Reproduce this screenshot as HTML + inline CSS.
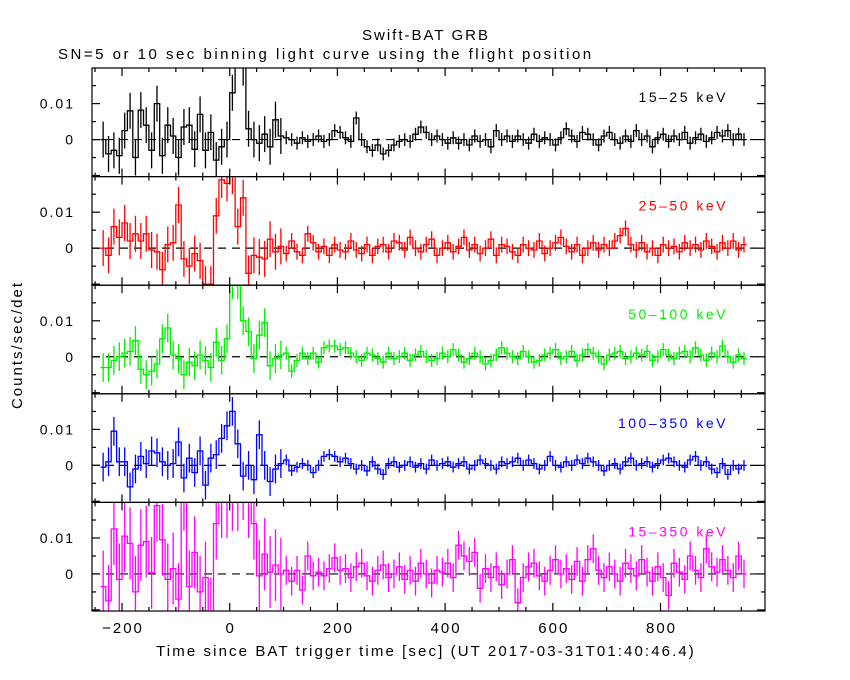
<!DOCTYPE html>
<html><head><meta charset="utf-8"><style>
html,body{margin:0;padding:0;background:#fff;}
svg{display:block;font-family:"Liberation Sans","DejaVu Sans",sans-serif;}
text{letter-spacing:2px;}
</style></head><body>
<svg id="chart" width="850" height="680" viewBox="0 0 850 680" xmlns="http://www.w3.org/2000/svg">
<text x="426" y="40" text-anchor="middle" font-size="15">Swift-BAT GRB</text>
<text x="58" y="59" font-size="15" style="letter-spacing:2.5px">SN=5 or 10 sec binning light curve using the flight position</text>
<text transform="translate(22,345) rotate(-90)" text-anchor="middle" font-size="15">Counts/sec/det</text>
<text x="426" y="656" text-anchor="middle" font-size="15" style="letter-spacing:2.1px">Time since BAT trigger time [sec] (UT 2017-03-31T01:40:46.4)</text>
<g id="panels"></g>
</svg>
<script>
const binStart = -240;
const binWidth = 10;
const xTicks = [-200, 0, 200, 400, 600, 800];
const yTicks = [0, 0.01];
const yTickLabels = ["0", "0.01"];
const bandLabels = ["15\u201325 keV", "25\u201350 keV", "50\u2013100 keV", "100\u2013350 keV", "15\u2013350 keV"];
const errSplitTime = 105;
const errPre = [5, 5, 4, 4, 10];
const errPost = [1.8, 2.2, 1.8, 1.5, 4];
const s1 = [0,-4,-3,-4.5,2.5,8,-5,8.2,4,-3,10,-4.5,4,1,-5,3.5,4,-2.7,7,-3,2,-5.7,-2,0,13,25,20,3,0,-1,1.5,-2,5.5,1,0.5,
0,-1,0.5,-0.5,0,1,-0.5,0,2.5,2,0.5,-0.5,6,0,-2,-3,-1.5,-4,-3,-1.5,-0.5,0,-0.5,1.5,3.5,2,0,1,0,-1,0.5,-1,0,-1.5,1,-0.5,0,-2,2.5,0,1,-0.5,1,0,-1,1.5,-0.5,0.5,0,-1.5,0.5,3,1,-0.5,2,1.5,0,-1.5,1,2,0,-1,1,-0.5,2.5,0,1,-2,0.5,1.5,-0.5,1,0,2,-1,0.5,1.5,-0.5,0.5,2,1,2.5,0,1.5,0];
const s2 = [0,-2,6,3,7,2,4,2,4,-0.5,-1,-6,1,1.5,12,-3,-5,-1.5,-3.5,-10,-10,9,19,18,20,6,14,-7,-2,-2.5,-3,2.5,-1,0.5,-1.5,
2,-1,-2,4,1.5,-1,0.5,-2,1,-0.5,-1,2,-0.5,-1.5,1,-2,0.5,1,-1,2,1.5,-0.5,3,0,-1,1,2.5,-2,0,1.5,-1,0.5,3,-0.5,1,-1.5,0,2.5,-2,1,0.5,-1,-2,1,0,-0.5,2,-1.5,0,1.5,3,0.5,-1,1,-2,0,1.5,-0.5,1,0,2,3.5,5.5,1,-0.5,1.5,-1,0,-2,1,0,0.5,-1,1.5,0,1,-0.5,2,0.5,-1,1.5,0,2,-0.5,1];
const s3 = [-3,-3,-1,0,1,1.5,4.5,-3.5,-5,-4,-2,5,8,0.5,-0.5,-5,-1.5,-2.5,0.5,-1,-3,4,-1,5,20,20,10,7,-0.5,6,9.5,-2.5,-0.5,0.5,1,
-4,-1,1,-0.5,1,-1.5,2.5,3,3,2,2.5,1,0,-1,1,0.5,-0.5,-1.5,1,-0.5,0,1,-1,0.5,1.5,0,-1,-0.5,1,0,2,0.5,-1.5,-0.5,1,0,-2,-1,0.5,2.5,1,0,-0.5,1.5,0,-1.5,-1,0.5,1,2,-0.5,0,1.5,-1,0.5,2,1,0,-2,0.5,1,1.5,-0.5,0,1,0.5,1.5,-1,0,2,0.5,-0.5,1,1.5,0,2.5,0.5,-1,1,0,3,0,-1.5,0.5,-0.5];
const s4 = [-0.5,1,9.5,1,1,-6,-1,2.5,0.5,4,3.5,1,0,0.5,6.5,-3.5,2,-2,4,-5.5,2,3,7.5,11,15,6,-3,0,-4,8.5,0,-4.5,-1,0.5,1.5,
-1.5,-0.5,0.5,0,-2,0,2.5,3,2.5,1,2,0.5,-1,0,-1.5,1,-1,-2.5,0.5,1,-0.5,0,1,-0.5,0.5,-1,1.5,0,0.5,1,-0.5,0.5,1,-1,0,1.5,0.5,0,-1,1,0.5,1,2,0,1.5,0.5,-1,0,2.5,0,-0.5,1,0,1.5,0.5,2,1,0,-1.5,0,0.5,-1,1,2,0,0.5,1,-0.5,0.5,1.5,2,1,0,-0.5,1.5,2.5,0,1,-1,-2,0.5,-2.5,0,-1,0];
const s5 = [-3.5,-7.5,12.5,-1.5,10.5,8.5,-5,8,9,0.3,19,9.5,-1.5,1.5,-7,22,-3.5,6,-5,-1,-11,14,20,20,22,22,25,20,14,-0.5,5.5,0.5,2.5,0,1,
-2,1,-4.5,5,-0.5,0.5,-0.5,1.5,4.5,1,1.5,-1,2,3,-0.5,-2,1,2.5,-1,0,2,-1.5,1,-2,3,0,-2.5,1,0.5,3,-1,8,5,3.5,6,-4,1.5,-1,2,-3,0,4,-8,-1,2,3,-0.5,-2,1,4,0,1.5,-1.5,3.5,-2,4,7,1,-1,2,0,-2,3,1.5,-0.5,4,0.5,-2,2,-1,-6,3,0.5,-1.5,5,1,-1,7,2,0.5,4,1,-1,5,0];
const series = [s1, s2, s3, s4, s5];
const colors = ["#000000", "#ff0000", "#00ee00", "#0000ff", "#ff00ff"];
const valueScale = 0.001;

const NS = "http://www.w3.org/2000/svg";
const X0 = 92, X1 = 765, T0 = -255.7, T1 = 994;
const PTOP = 68, PH = 108.6, YMIN = -0.0103, YMAX = 0.0199;
function xs(t){ return X0 + (t - T0) / (T1 - T0) * (X1 - X0); }
function ys(p, v){ const top = PTOP + p*PH; return top + (YMAX - v) / (YMAX - YMIN) * PH; }
function mk(tag, attrs, parent){ const e = document.createElementNS(NS, tag); for (const k in attrs) e.setAttribute(k, attrs[k]); parent.appendChild(e); return e; }
const root = document.getElementById("panels");
const defs = mk("defs", {}, root);

for (let p = 0; p < 5; p++) {
  const top = PTOP + p*PH, bot = top + PH;
  const g = mk("g", {}, root);
  
  
  const cp = mk("clipPath", {id: "cp"+p}, defs);
  mk("rect", {x: X0, y: top, width: X1-X0, height: PH}, cp);
  const zl = mk("line", {x1: X0, x2: X1, y1: ys(p,0), y2: ys(p,0), stroke: "#000", "stroke-width": 1.2, "stroke-dasharray": "8,6"}, g);
  
  
  const dg = mk("g", {"clip-path": "url(#cp"+p+")", stroke: colors[p], "stroke-width": 1.3, fill: "none"}, g);
  
  
  const vals = series[p];
  let d = "";
  for (let i = 0; i < vals.length; i++) {
    const t0 = binStart + i*binWidth, t1 = t0 + binWidth, tc = t0 + binWidth/2;
    const v = vals[i]*valueScale;
    const y = ys(p, v);
    d += (i === 0 ? "M" : "L") + xs(t0).toFixed(1) + "," + y.toFixed(1) + "L" + xs(t1).toFixed(1) + "," + y.toFixed(1);
    const e = (tc < errSplitTime ? errPre[p] : errPost[p]) * valueScale;
    const eb = mk("line", {x1: xs(tc), x2: xs(tc), y1: ys(p, v+e), y2: ys(p, v-e)}, dg);
    
    
  }
  const path = mk("path", {d: d}, dg);
  
  
  const fr = mk("rect", {x: X0, y: top, width: X1-X0, height: PH, fill: "none", stroke: "#000", "stroke-width": 1.2}, g);
  
  
  for (let t = -250; t <= 950; t += 50) {
    const major = xTicks.indexOf(t) >= 0;
    const L = major ? 8 : 4;
    mk("line", {x1: xs(t), x2: xs(t), y1: top, y2: top+L, stroke: "#000", "stroke-width": 1.2}, g);
    mk("line", {x1: xs(t), x2: xs(t), y1: bot, y2: bot-L, stroke: "#000", "stroke-width": 1.2}, g);
  }
  for (let v = -0.01; v <= 0.0195; v += 0.005) {
    const vv = Math.round(v*1000)/1000;
    const major = Math.abs(vv % 0.01) < 1e-9;
    const L = major ? 8 : 4;
    mk("line", {x1: X0, x2: X0+L, y1: ys(p,vv), y2: ys(p,vv), stroke: "#000", "stroke-width": 1.2}, g);
    mk("line", {x1: X1, x2: X1-L, y1: ys(p,vv), y2: ys(p,vv), stroke: "#000", "stroke-width": 1.2}, g);
  }
  for (let k = 0; k < yTicks.length; k++) {
    const tl = mk("text", {x: 75, y: ys(p, yTicks[k]) + 5, "text-anchor": "end", "font-size": 14}, g);
    tl.textContent = yTickLabels[k];
    
    
  }
  const bl = mk("text", {x: 728, y: top + 34, "text-anchor": "end", "font-size": 14, fill: colors[p]}, g);
  bl.setAttribute('style', 'letter-spacing:2.5px');
  bl.textContent = bandLabels[p];
  
  
}
const lastBot = PTOP + 5*PH;
for (const t of xTicks) {
  const tl = mk("text", {x: xs(t)+1, y: lastBot + 22, "text-anchor": "middle", "font-size": 15}, root);
  tl.textContent = String(t).replace("-", "\u2212");
  
  
}
</script>
</body></html>
